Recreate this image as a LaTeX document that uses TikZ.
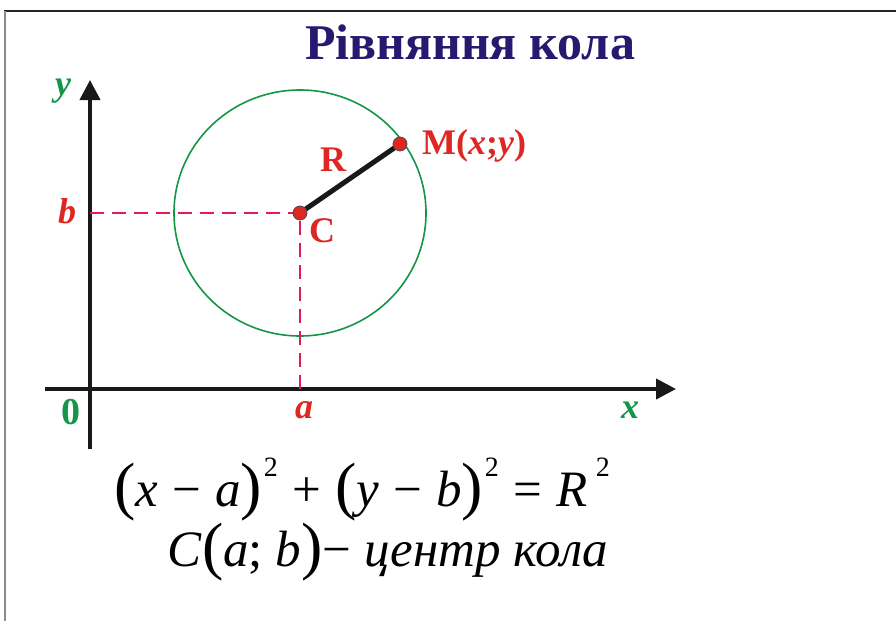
\documentclass[tikz,border=0pt]{standalone}
\usepackage{fontspec}
\setmainfont{Liberation Serif}
\usetikzlibrary{arrows.meta}
\definecolor{navy}{RGB}{38,26,112}
\definecolor{grn}{RGB}{20,150,70}
\definecolor{lblred}{RGB}{222,38,34}
\definecolor{dashred}{RGB}{222,30,80}
\newcommand{\bigp}[1]{{\fontsize{64}{64}\selectfont\raisebox{-0.02em}{#1}}}
\newcommand{\sq}{\raisebox{0.58em}{\fontsize{28}{28}\selectfont 2}}
\newcommand{\op}[1]{\hspace{0.28em}#1\hspace{0.28em}}
\begin{document}
\begin{tikzpicture}[x=1pt,y=-1pt,
  axis/.style={line width=4pt,draw=black!90,-{Triangle[length=20pt,width=20pt]}},
  guide/.style={draw=dashred,line width=2pt,dash pattern=on 14pt off 8pt},
  dot/.style={circle,fill=lblred,draw=black!70,line width=0.8pt,minimum size=14pt,inner sep=0pt},
  lbl/.style={text=lblred,font=\fontsize{36}{36}\selectfont\bfseries,inner sep=0pt},
  glbl/.style={text=grn,font=\fontsize{36}{36}\selectfont\bfseries\itshape,inner sep=0pt},
  formula/.style={font=\fontsize{51}{51}\selectfont,inner sep=0pt,anchor=base}]
\useasboundingbox (0,0) rectangle (896,621);
\fill[white] (0,0) rectangle (896,621);
% frame
\draw[line width=1.6pt,black!85] (4,11) -- (896,11);
\draw[line width=1.6pt,black!45] (5,11) -- (5,621);
% title
\node[text=navy,font=\fontsize{50}{50}\selectfont\bfseries,inner sep=0pt] (title) at (470,42) {Рівняння кола};
% axes
\coordinate (xs) at (45,389);
\coordinate (xe) at (676,389);
\coordinate (ys) at (90,449);
\coordinate (ye) at (90,80);
\draw[axis] (xs) -- (xe);
\draw[axis] (ys) -- (ye);
\node[glbl] (ylab) at (63,91) {y};
\node[glbl] (xlab) at (630,410) {x};
\node[text=grn,font=\fontsize{38}{38}\selectfont\bfseries,inner sep=0pt] (zero) at (71,412) {0};
% circle
\coordinate (cc) at (300,213);
\coordinate (mm) at (400,144);
\coordinate (bb) at (90,213);
\coordinate (aa) at (300,389);
\draw[grn,line width=1.6pt] (cc) ellipse [x radius=126,y radius=123];
\draw[guide] (bb) -- (cc);
\draw[guide] (aa) -- (cc);
\draw[line width=5pt,black!90] (cc) -- (mm);
\node[dot] (C) at (cc) {};
\node[dot] (M) at (mm) {};
\node[lbl] (Rlab) at (333,160) {R};
\node[lbl,anchor=west] (Mlab) at (422,146) {M(\textit{x};\textit{y})};
\node[lbl] (Clab) at (322,231) {C};
\node[lbl,font=\fontsize{36}{36}\selectfont\bfseries\itshape] (blab) at (67,211) {b};
\node[lbl,font=\fontsize{36}{36}\selectfont\bfseries\itshape] (alab) at (304,410) {a};
% formulas
\node[formula] (eq) at (362,506) {\bigp{(}\textit{x}\op{−}\textit{a}\bigp{)}\hspace{0.03em}\sq\op{+}\bigp{(}\textit{y}\op{−}\textit{b}\bigp{)}\hspace{0.03em}\sq\op{=}\textit{R}\,\sq};
\node[formula] (cen) at (388,566) {\textit{C}\bigp{(}\textit{a}; \textit{b}\bigp{)}− \textit{центр кола}};
\end{tikzpicture}
\end{document}
